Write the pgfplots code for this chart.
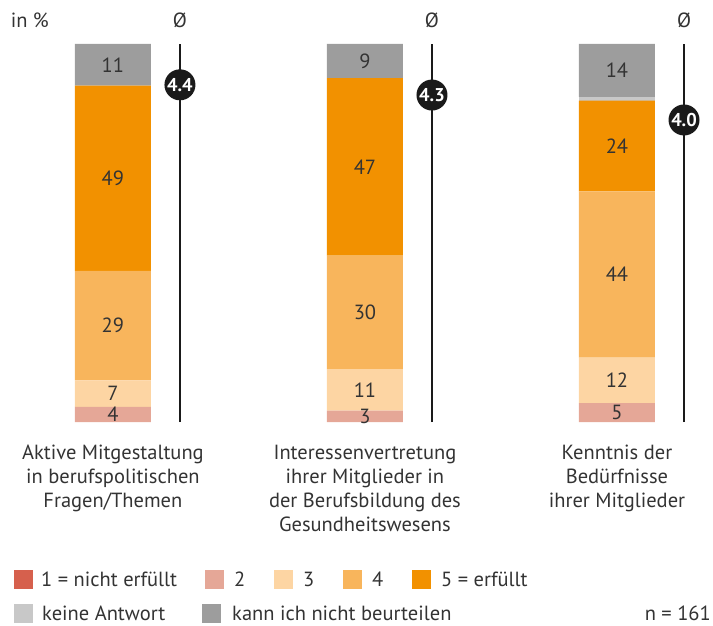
\documentclass[border=0pt]{standalone}
\usepackage{pgfplots}
\pgfplotsset{compat=1.18}
\usepackage{pgfplotstable}
\usepackage{fontspec}
\setmainfont{PT Sans}
\definecolor{c1}{HTML}{D6604D}
\definecolor{c2}{HTML}{E5A797}
\definecolor{c3}{HTML}{FDD5A3}
\definecolor{c4}{HTML}{F8B55C}
\definecolor{c5}{HTML}{F29100}
\definecolor{cna}{HTML}{C8C8C8}
\definecolor{ckb}{HTML}{9D9D9D}
\definecolor{txt}{HTML}{333333}
\definecolor{dark}{HTML}{1A1A1A}

\pgfplotstableread{
x one two three four five na kb
0 0 4 7 29 49 0 11
1 0 3 11 30 47 0 9
2 0 5 12 44 24 1 14
}\data
\pgfplotstableread{
x y lbl
0 2 4
0 7.5 7
0 25.5 29
0 64.5 49
0 94.5 11
1 1.5 3
1 8.5 11
1 29 30
1 67.5 47
1 95.5 9
2 2.5 5
2 11 12
2 39 44
2 73 24
2 93 14
}\labels

\newcommand\fnt{\fontsize{20.5}{24}\selectfont}
\tikzset{
  meanline/.style={dark, line width=1.5pt},
  meancirc/.style={circle, fill=dark, text=white, inner sep=0pt, minimum size=31pt, font=\bfseries\fontsize{18.5}{19}\selectfont},
  lbltxt/.style={text=txt, font=\fnt},
  catlbl/.style={anchor=north, align=center, text=txt, inner sep=0pt, font=\fnt},
}
\pgfplotsset{commonax/.style={
  at={(0pt,203pt)}, anchor=south west,
  scale only axis, width=713pt, height=378pt,
  xmin=-0.448, xmax=2.381, ymin=0, ymax=100,
  hide axis, clip=false}}

\begin{document}
\begin{tikzpicture}
\path[use as bounding box] (0pt,0pt) rectangle (713pt,625pt);
\begin{axis}[commonax, ybar stacked, bar width=76pt]
\addplot[fill=c1, draw=none] table[x=x,y=one]{\data};
\addplot[fill=c2, draw=none] table[x=x,y=two]{\data};
\addplot[fill=c3, draw=none] table[x=x,y=three]{\data};
\addplot[fill=c4, draw=none] table[x=x,y=four]{\data};
\addplot[fill=c5, draw=none] table[x=x,y=five]{\data};
\addplot[fill=cna, draw=none] table[x=x,y=na]{\data};
\addplot[fill=ckb, draw=none] table[x=x,y=kb]{\data};
\end{axis}
\begin{axis}[commonax]
\addplot[draw=none, mark=none, nodes near coords, point meta=explicit symbolic,
  every node near coord/.append style={anchor=center, font=\fnt, text=txt}]
  table[x=x,y=y,meta=lbl]{\labels};
% mean lines
\draw[meanline] (axis cs:0.266,0) -- (axis cs:0.266,100);
\draw[meanline] (axis cs:1.266,0) -- (axis cs:1.266,100);
\draw[meanline] (axis cs:2.266,0) -- (axis cs:2.266,100);
\node[meancirc] at (axis cs:0.266,89.2) {4.4};
\node[meancirc] at (axis cs:1.266,86.5) {4.3};
\node[meancirc] at (axis cs:2.266,79.9) {4.0};
\node[lbltxt] at (axis cs:0.266,106.3) {Ø};
\node[lbltxt] at (axis cs:1.266,106.3) {Ø};
\node[lbltxt] at (axis cs:2.266,106.3) {Ø};
\node[lbltxt, anchor=west, inner sep=0pt] at (axis cs:-0.406,106.3) {in \%};
% category labels
\node[catlbl] at ([yshift=-23pt]axis cs:0,0) {Aktive Mitgestaltung\\in berufspolitischen\\Fragen/Themen};
\node[catlbl] at ([yshift=-23pt]axis cs:1,0) {Interessenvertretung\\ihrer Mitglieder in\\der Berufsbildung des\\Gesundheitswesens};
\node[catlbl] at ([yshift=-23pt]axis cs:2,0) {Kenntnis der\\Bedürfnisse\\ihrer Mitglieder};
\end{axis}
% legend
\begin{scope}[every node/.style={anchor=west, text=txt, inner sep=0pt, font=\fnt}]
\fill[c1] (14pt,36pt) rectangle (33pt,55pt); \node at (41pt,45.5pt) {1 = nicht erfüllt};
\fill[c2] (205pt,36pt) rectangle (224pt,55pt); \node at (234pt,45.5pt) {2};
\fill[c3] (274pt,36pt) rectangle (293pt,55pt); \node at (303pt,45.5pt) {3};
\fill[c4] (343pt,36pt) rectangle (362pt,55pt); \node at (372pt,45.5pt) {4};
\fill[c5] (412pt,36pt) rectangle (431pt,55pt); \node at (441pt,45.5pt) {5 = erfüllt};
\fill[cna] (14pt,2pt) rectangle (33pt,21pt); \node at (42pt,11.5pt) {keine Antwort};
\fill[ckb] (202pt,2pt) rectangle (221pt,21pt); \node at (232pt,11.5pt) {kann ich nicht beurteilen};
\node[anchor=east] at (711pt,11.5pt) {n = 161};
\end{scope}
\end{tikzpicture}
\end{document}
